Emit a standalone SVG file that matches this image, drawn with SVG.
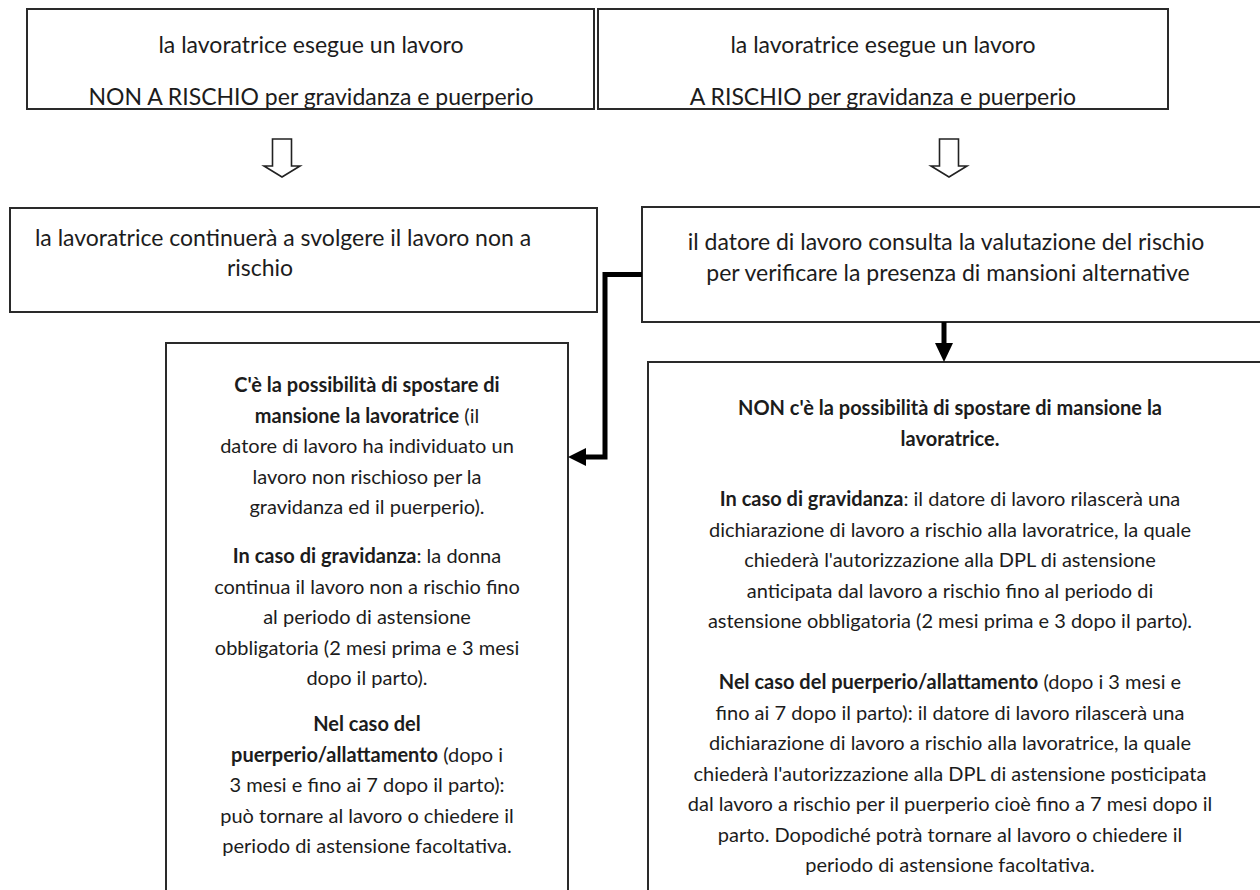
<svg xmlns="http://www.w3.org/2000/svg" width="1260" height="890" viewBox="0 0 1260 890">
<style>
.box{fill:#fff;stroke:#2a2a2a;stroke-width:2}
.t{font-family:Lato,"Open Sans","Liberation Sans",sans-serif;fill:#1c1c1c;text-anchor:middle}
.big{font-size:23px}
.sm{font-size:20px}
.b{font-weight:bold}
.hollow{fill:#fff;stroke:#222;stroke-width:1.6;stroke-linejoin:miter}
.thick{fill:none;stroke:#000;stroke-width:5;stroke-linejoin:miter}
</style>
<rect width="1260" height="890" fill="#fff"/>
<g id="node-top-left">
<rect class="box" x="27" y="9" width="567" height="100"/>
<text class="t big" x="311" y="53">la lavoratrice esegue un lavoro</text>
<text class="t big" x="311" y="105">NON A RISCHIO per gravidanza e puerperio</text>
</g>
<g id="node-top-right">
<rect class="box" x="598" y="9" width="570" height="100"/>
<text class="t big" x="883" y="53">la lavoratrice esegue un lavoro</text>
<text class="t big" x="883" y="105">A RISCHIO per gravidanza e puerperio</text>
</g>
<g id="node-mid-left">
<rect class="box" x="10" y="208" width="587" height="104"/>
<text class="t big" x="283" y="246">la lavoratrice continuerà a svolgere il lavoro non a</text>
<text class="t big" x="260" y="276">rischio</text>
</g>
<g id="node-mid-right">
<rect class="box" x="642" y="207" width="640" height="115"/>
<text class="t big" x="946" y="250">il datore di lavoro consulta la valutazione del rischio</text>
<text class="t big" x="948" y="281">per verificare la presenza di mansioni alternative</text>
</g>
<g id="node-bottom-left">
<rect class="box" x="166" y="343" width="402" height="570"/>
<text class="t sm b" x="367" y="392">C'è la possibilità di spostare di</text>
<text class="t sm" x="367" y="422.5"><tspan class="b">mansione la lavoratrice</tspan> (il</text>
<text class="t sm" x="367" y="453">datore di lavoro ha individuato un</text>
<text class="t sm" x="367" y="483.5">lavoro non rischioso per la</text>
<text class="t sm" x="367" y="514">gravidanza ed il puerperio).</text>
<text class="t sm" x="367" y="563"><tspan class="b">In caso di gravidanza</tspan>: la donna</text>
<text class="t sm" x="367" y="593.5">continua il lavoro non a rischio fino</text>
<text class="t sm" x="367" y="624">al periodo di astensione</text>
<text class="t sm" x="367" y="654.5">obbligatoria (2 mesi prima e 3 mesi</text>
<text class="t sm" x="367" y="685">dopo il parto).</text>
<text class="t sm b" x="367" y="731">Nel caso del</text>
<text class="t sm" x="367" y="761.5"><tspan class="b">puerperio/allattamento</tspan> (dopo i</text>
<text class="t sm" x="367" y="792">3 mesi e fino ai 7 dopo il parto):</text>
<text class="t sm" x="367" y="822.5">può tornare al lavoro o chiedere il</text>
<text class="t sm" x="367" y="853">periodo di astensione facoltativa.</text>
</g>
<g id="node-bottom-right">
<rect class="box" x="648" y="362" width="640" height="560"/>
<text class="t sm b" x="950" y="415">NON c'è la possibilità di spostare di mansione la</text>
<text class="t sm b" x="950" y="446">lavoratrice.</text>
<text class="t sm" x="950" y="506"><tspan class="b">In caso di gravidanza</tspan>: il datore di lavoro rilascerà una</text>
<text class="t sm" x="950" y="536.5">dichiarazione di lavoro a rischio alla lavoratrice, la quale</text>
<text class="t sm" x="950" y="567">chiederà l'autorizzazione alla DPL di astensione</text>
<text class="t sm" x="950" y="597.5">anticipata dal lavoro a rischio fino al periodo di</text>
<text class="t sm" x="950" y="628">astensione obbligatoria (2 mesi prima e 3 dopo il parto).</text>
<text class="t sm" x="950" y="689"><tspan class="b">Nel caso del puerperio/allattamento</tspan> (dopo i 3 mesi e</text>
<text class="t sm" x="950" y="719.5">fino ai 7 dopo il parto): il datore di lavoro rilascerà una</text>
<text class="t sm" x="950" y="750">dichiarazione di lavoro a rischio alla lavoratrice, la quale</text>
<text class="t sm" x="950" y="780.5">chiederà l'autorizzazione alla DPL di astensione posticipata</text>
<text class="t sm" x="950" y="811">dal lavoro a rischio per il puerperio cioè fino a 7 mesi dopo il</text>
<text class="t sm" x="950" y="841.5">parto. Dopodiché potrà tornare al lavoro o chiedere il</text>
<text class="t sm" x="950" y="872">periodo di astensione facoltativa.</text>
</g>
<g id="connectors">
<path class="hollow" d="M272.5,139 H291.5 V166 H300 L282,177 L264,166 H272.5 Z"/>
<path class="hollow" d="M939.5,139 H958.5 V166 H967 L949,177 L931,166 H939.5 Z"/>
<path class="thick" d="M642,274.5 H605 V457 H584"/>
<polygon points="568,457 586,448 586,466" fill="#000"/>
<line x1="944" y1="322" x2="944" y2="345" stroke="#000" stroke-width="5"/>
<polygon points="935,343 953,343 944,362" fill="#000"/>
</g>
</svg>
